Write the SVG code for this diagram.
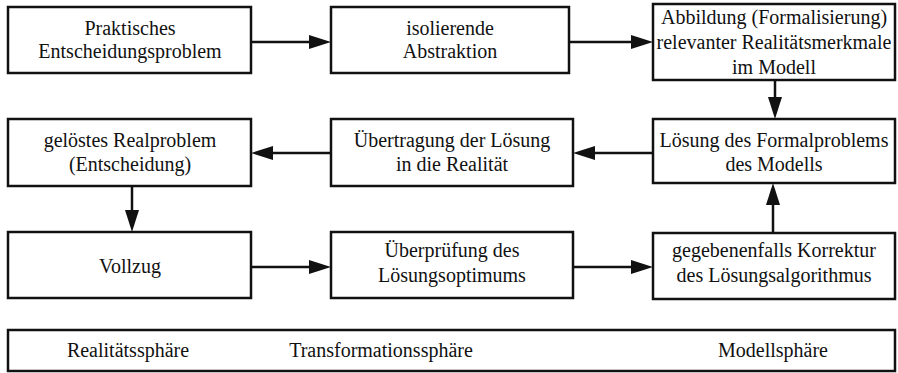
<svg xmlns="http://www.w3.org/2000/svg" width="898" height="373" viewBox="0 0 898 373">
  <defs>
    <style>
      .box { fill: #ffffff; stroke: #111111; stroke-width: 2.5; }
      .lbl { font-family: "Liberation Serif", "Times New Roman", serif; font-size: 20px; fill: #111111; text-anchor: middle; }
      .conn { fill: none; stroke: #111111; stroke-width: 2.5; marker-end: url(#head); }
    </style>
    <marker id="head" markerUnits="userSpaceOnUse" markerWidth="22" markerHeight="14" refX="12" refY="7" orient="auto">
      <path d="M0,0 L22,7 L0,14 Z" fill="#111111"/>
    </marker>
  </defs>
  <rect width="898" height="373" fill="#ffffff"/>

  <!-- top row -->
  <g id="n1">
    <rect class="box" x="8" y="7" width="243" height="66"/>
    <text class="lbl" x="130" y="35">Praktisches</text>
    <text class="lbl" x="130" y="58">Entscheidungsproblem</text>
  </g>
  <g id="n2">
    <rect class="box" x="331" y="7" width="238" height="66"/>
    <text class="lbl" x="450" y="35">isolierende</text>
    <text class="lbl" x="450" y="58">Abstraktion</text>
  </g>
  <g id="n3">
    <rect class="box" x="653" y="4" width="242" height="76"/>
    <text class="lbl" x="774" y="24">Abbildung (Formalisierung)</text>
    <text class="lbl" x="774" y="49">relevanter Realitätsmerkmale</text>
    <text class="lbl" x="774" y="74">im Modell</text>
  </g>

  <!-- middle row -->
  <g id="n4">
    <rect class="box" x="8" y="119" width="243" height="67"/>
    <text class="lbl" x="130" y="147">gelöstes Realproblem</text>
    <text class="lbl" x="130" y="171">(Entscheidung)</text>
  </g>
  <g id="n5">
    <rect class="box" x="331" y="119" width="242" height="67"/>
    <text class="lbl" x="452" y="147">Übertragung der Lösung</text>
    <text class="lbl" x="452" y="171">in die Realität</text>
  </g>
  <g id="n6">
    <rect class="box" x="653" y="119" width="242" height="64"/>
    <text class="lbl" x="774" y="147">Lösung des Formalproblems</text>
    <text class="lbl" x="774" y="171">des Modells</text>
  </g>

  <!-- bottom row -->
  <g id="n7">
    <rect class="box" x="8" y="232" width="243" height="66"/>
    <text class="lbl" x="130" y="273">Vollzug</text>
  </g>
  <g id="n8">
    <rect class="box" x="331" y="232" width="242" height="66"/>
    <text class="lbl" x="452" y="257">Überprüfung des</text>
    <text class="lbl" x="452" y="282">Lösungsoptimums</text>
  </g>
  <g id="n9">
    <rect class="box" x="653" y="233" width="242" height="66"/>
    <text class="lbl" x="774" y="257">gegebenenfalls Korrektur</text>
    <text class="lbl" x="774" y="282">des Lösungsalgorithmus</text>
  </g>

  <!-- sphere legend -->
  <g id="legend">
    <rect class="box" x="8" y="330" width="887" height="41"/>
    <text class="lbl" x="128" y="357">Realitätssphäre</text>
    <text class="lbl" x="381" y="357">Transformationssphäre</text>
    <text class="lbl" x="773" y="357">Modellsphäre</text>
  </g>

  <!-- connectors -->
  <g id="connectors">
    <path class="conn" d="M251,42 H321"/>
    <path class="conn" d="M569,42 H643"/>
    <path class="conn" d="M775,80 V109"/>
    <path class="conn" d="M653,153 H583"/>
    <path class="conn" d="M331,153 H261"/>
    <path class="conn" d="M132,186 V222"/>
    <path class="conn" d="M251,267 H321"/>
    <path class="conn" d="M573,267 H643"/>
    <path class="conn" d="M773,233 V193"/>
  </g>
</svg>
